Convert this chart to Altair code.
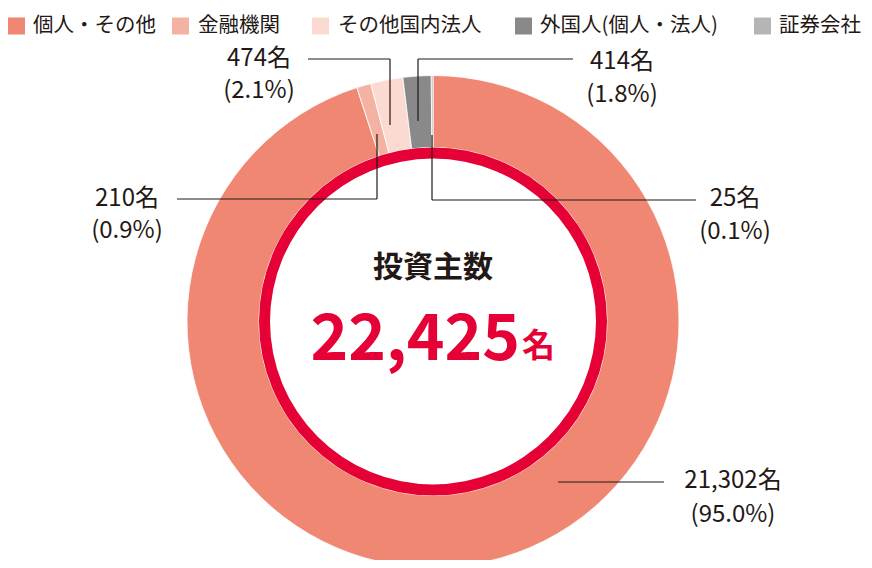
import altair as alt
import pandas as pd

# ---- data ----
categories = ["個人・その他", "金融機関", "その他国内法人", "外国人(個人・法人)", "証券会社"]
counts = [21302, 210, 474, 414, 25]
colors = ["#EF8773", "#F4B2A3", "#FBDAD2", "#898989", "#B5B5B5"]
center_title = "投資主数"
unit = "名"

total = sum(counts)

# ---- annotation layout (chart pixel coords) ----
legend_square_x = [8.5, 172.5, 312.5, 515.5, 754.5]
legend_text_x = [25, 190, 330, 532, 771]
legend_y = 18
label_x = [725, 119, 251, 614, 727]
label_y1 = [473, 191, 51, 54, 191]
label_y2 = [507, 223, 83, 87, 224]
leader_segments = [
    (550, 474, 656, 474),
    (169, 191, 369, 191), (369, 191, 369, 126),
    (300, 51, 382, 51), (382, 51, 382, 117),
    (410, 51, 565, 51), (410, 51, 410, 113),
    (424, 192, 688, 192), (424, 192, 424, 127),
]
CX, CY = 425, 313.5
FONT = "Noto Sans CJK JP"
INK = "#231815"
RED = "#E50035"

df = pd.DataFrame({
    "category": categories,
    "count": counts,
    "order": list(range(len(categories))),
})
df["line1"] = [f"{c:,}{unit}" for c in counts]
df["line2"] = [f"({c / total * 100:.1f}%)" for c in counts]
df["lx"] = label_x
df["ly1"] = label_y1
df["ly2"] = label_y2
df["sqx"] = legend_square_x
df["tx"] = legend_text_x
df["legy"] = legend_y

seg_df = pd.DataFrame(leader_segments, columns=["x1", "y1", "x2", "y2"])

color_scale = alt.Scale(domain=categories, range=colors)

arcs = alt.Chart(df).mark_arc(
    outerRadius=246, innerRadius=174, stroke="white", strokeWidth=0.8
).encode(
    x=alt.value(CX),
    y=alt.value(CY),
    theta=alt.Theta("count:Q", stack=True),
    order=alt.Order("order:Q", sort="ascending"),
    color=alt.Color("category:N", scale=color_scale, legend=None),
)

ring = alt.Chart(pd.DataFrame({"v": [1]})).mark_arc(
    outerRadius=174, innerRadius=163, theta=0, theta2=6.2832, color=RED
).encode(x=alt.value(CX), y=alt.value(CY))

rules = alt.Chart(seg_df).mark_rule(color=INK, strokeWidth=1.2).encode(
    x=alt.X("x1:Q", scale=None),
    x2="x2:Q",
    y=alt.Y("y1:Q", scale=None),
    y2="y2:Q",
)

leg_sq = alt.Chart(df).mark_square(size=289, opacity=1, strokeWidth=0).encode(
    x=alt.X("sqx:Q", scale=None),
    y=alt.Y("legy:Q", scale=None),
    color=alt.Color("category:N", scale=color_scale, legend=None),
)
leg_txt = alt.Chart(df).mark_text(
    font=FONT, fontSize=20.5, color=INK, align="left", baseline="middle"
).encode(
    x=alt.X("tx:Q", scale=None),
    y=alt.Y("legy:Q", scale=None),
    text="category:N",
)

lab1 = alt.Chart(df).mark_text(
    font=FONT, fontSize=24, color=INK, align="center", baseline="middle"
).encode(
    x=alt.X("lx:Q", scale=None),
    y=alt.Y("ly1:Q", scale=None),
    text="line1:N",
)
lab2 = alt.Chart(df).mark_text(
    font=FONT, fontSize=24, color=INK, align="center", baseline="middle"
).encode(
    x=alt.X("lx:Q", scale=None),
    y=alt.Y("ly2:Q", scale=None),
    text="line2:N",
)

center_df = pd.DataFrame({
    "title": [center_title],
    "total": [f"{total:,}"],
    "unit": [unit],
})
title_txt = alt.Chart(center_df).mark_text(
    font=FONT, fontSize=30, fontWeight="bold", color=INK,
    align="center", baseline="middle"
).encode(x=alt.value(CX), y=alt.value(260), text="title:N")

total_txt = alt.Chart(center_df).mark_text(
    font=FONT, fontSize=64, fontWeight="bold", color=RED,
    align="right", baseline="alphabetic"
).encode(x=alt.value(512), y=alt.value(352), text="total:N")

unit_txt = alt.Chart(center_df).mark_text(
    font=FONT, fontSize=33, fontWeight="bold", color=RED,
    align="left", baseline="alphabetic"
).encode(x=alt.value(514), y=alt.value(349), text="unit:N")

chart = alt.layer(
    arcs, ring, rules, leg_sq, leg_txt, lab1, lab2, title_txt, total_txt, unit_txt
).properties(
    width=856, height=552, padding=0,
    autosize=alt.AutoSizeParams(type="none"),
    background="white",
).configure_view(stroke=None)

chart.save("out.html", embed_options={"renderer": "svg", "actions": False})
